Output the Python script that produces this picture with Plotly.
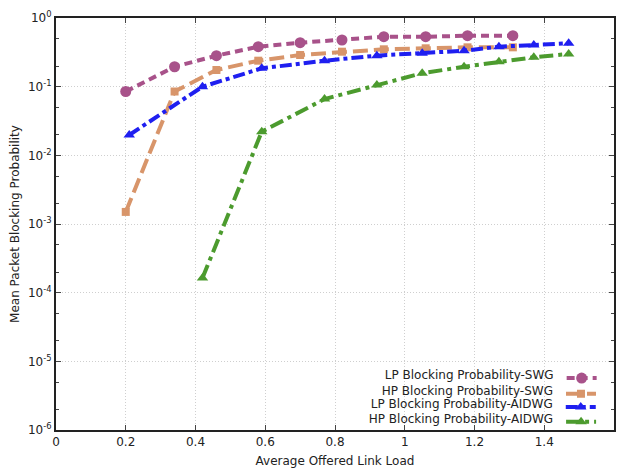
import plotly.graph_objects as go

# ---- data ----
x_swg = [0.20, 0.34, 0.46, 0.58, 0.70, 0.82, 0.94, 1.06, 1.18, 1.31]
lp_swg = [0.085, 0.195, 0.283, 0.382, 0.437, 0.478, 0.534, 0.534, 0.552, 0.552]
hp_swg = [0.0015, 0.085, 0.175, 0.239, 0.289, 0.323, 0.350, 0.362, 0.374, 0.374]

x_lp_aidwg = [0.21, 0.42, 0.59, 0.77, 0.92, 1.05, 1.17, 1.27, 1.37, 1.47]
lp_aidwg = [0.0198, 0.100, 0.185, 0.239, 0.283, 0.306, 0.334, 0.382, 0.405, 0.428]

x_hp_aidwg = [0.42, 0.59, 0.77, 0.92, 1.05, 1.17, 1.27, 1.37, 1.47]
hp_aidwg = [0.000163, 0.0221, 0.066, 0.106, 0.157, 0.195, 0.231, 0.268, 0.299]

series_names = [
    "LP Blocking Probability-SWG",
    "HP Blocking Probability-SWG",
    "LP Blocking Probability-AIDWG",
    "HP Blocking Probability-AIDWG",
]

y_tickvals = [1e-6, 1e-5, 1e-4, 1e-3, 1e-2, 1e-1, 1]
y_ticktext = ["10<sup>-6</sup>", "10<sup>-5</sup>", "10<sup>-4</sup>", "10<sup>-3</sup>",
              "10<sup>-2</sup>", "10<sup>-1</sup>", "10<sup>0</sup>"]
x_tickvals = [0, 0.2, 0.4, 0.6, 0.8, 1.0, 1.2, 1.4, 1.6]
x_ticktext = ["0", "0.2", "0.4", "0.6", "0.8", "1", "1.2", "1.4", "1.6"]

# ---- styles ----
colors = ["#a8528a", "#d8956a", "#1f1ff0", "#4c9b2e"]
dashes = ["8px,5px", "15px,6px", "12px,4px,4px,4px", "14px,5px,4px,5px"]
symbols = ["circle", "square", "triangle-up", "triangle-up"]
msizes = [11, 8, 10, 10]
legend_ids = ["legend", "legend2", "legend3", "legend4"]
legend_rows_y = [0.126, 0.088, 0.056, 0.020]

xs = [x_swg, x_swg, x_lp_aidwg, x_hp_aidwg]
ys = [lp_swg, hp_swg, lp_aidwg, hp_aidwg]

font_family = "DejaVu Sans, sans-serif"

fig = go.Figure()
for i in range(4):
    fig.add_trace(go.Scatter(
        x=xs[i], y=ys[i], mode="lines+markers",
        name="",
        legend=legend_ids[i],
        line=dict(color=colors[i], width=4, dash=dashes[i]),
        marker=dict(symbol=symbols[i], size=msizes[i], color=colors[i],
                    line=dict(width=0)),
        hovertext=series_names[i],
    ))

axis_common = dict(
    showline=True, linecolor="#222", linewidth=2, mirror="allticks",
    ticks="inside", ticklen=5, tickcolor="#444", tickwidth=1,
    showgrid=True, gridcolor="#cfcfcf", griddash="1px,2px", gridwidth=1,
    zeroline=False, tickfont=dict(family=font_family, size=12, color="#222"),
)

fig.update_xaxes(
    range=[0, 1.6], tickvals=x_tickvals, ticktext=x_ticktext,
    title=dict(text="Average Offered Link Load", standoff=8,
               font=dict(family=font_family, size=12, color="#222")),
    **axis_common,
)
fig.update_yaxes(
    type="log", range=[-6, 0], tickvals=y_tickvals, ticktext=y_ticktext,
    minor=dict(tickvals=[v * m for v in y_tickvals[:-1] for m in (2, 5)],
               ticks="inside", ticklen=3, tickcolor="#444", showgrid=False),
    title=dict(text="Mean Packet Blocking Probability", standoff=6,
               font=dict(family=font_family, size=12, color="#222")),
    **axis_common,
)

layout_legends = {}
for i in range(4):
    layout_legends[legend_ids[i]] = dict(
        x=0.987, y=legend_rows_y[i], xanchor="right", yanchor="middle",
        bgcolor="rgba(0,0,0,0)", borderwidth=0,
        font=dict(family=font_family, size=12, color="#222"),
        itemwidth=30,
        title=dict(text=series_names[i], side="left",
                   font=dict(family=font_family, size=12, color="#222")),
    )

fig.update_layout(
    width=620, height=470,
    margin=dict(l=56, r=4, t=18, b=32),
    paper_bgcolor="white", plot_bgcolor="white",
    font=dict(family=font_family, size=12, color="#222"),
    showlegend=True,
    **layout_legends,
)

fig.write_html("out.html")
